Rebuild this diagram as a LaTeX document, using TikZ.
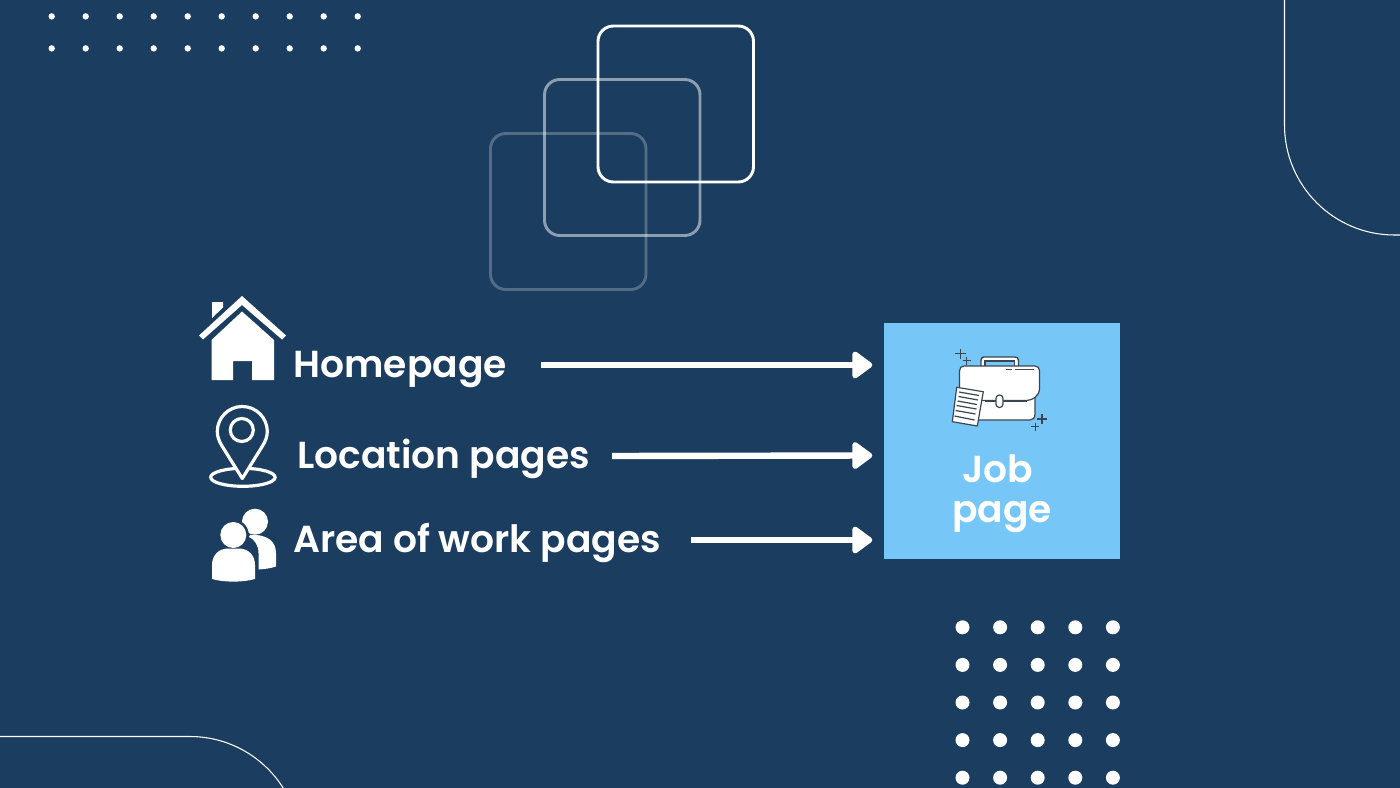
\documentclass[tikz,border=0pt]{standalone}
\usepackage{fontspec}
\setmainfont{Poppins SemiBold}
\usetikzlibrary{arrows.meta}
\definecolor{navy}{HTML}{1A3D60}
\definecolor{sky}{HTML}{76C6F8}
\definecolor{ink}{HTML}{3A4650}
\tikzset{
  lab/.style={text=white,inner sep=0pt,anchor=base west,font=\fontsize{28.2pt}{30pt}\selectfont},
  flow/.style={draw=white,line width=4.8pt,-{Triangle[length=16.5pt,width=23pt,round,line width=4pt]},shorten >=2pt},
  sq/.style={draw=white,rounded corners=11.5pt,line width=#1},
  thin arc/.style={draw=white,line width=0.8pt},
  brief/.style={fill=white,draw=ink,line width=0.9pt,line join=round},
  spark/.style={draw=ink,line width=1pt}
}
\begin{document}
\begin{tikzpicture}[x=0.75pt,y=-0.75pt]
\useasboundingbox (0,0) rectangle (1400,788);
\fill[navy] (0,0) rectangle (1400,788);
% dots top-left
\foreach \y in {16.4,48.4}\foreach \i in {0,...,9}
  \fill[white] ({51.7+34*\i},\y) circle (3.2);
% dots bottom-right
\foreach \r in {0,...,4}\foreach \c in {0,...,4}
  \fill[white] ({962.5+37.6*\c},{627.3+37.6*\r}) circle (7);
% corner arcs
\draw[thin arc] (1284.5,-2) -- (1284.5,125) arc[start angle=180,end angle=90,radius=110] -- (1402,235);
\draw[thin arc] (-2,736.5) -- (190,736.5) arc[start angle=270,end angle=335,radius=110];
% squares
\draw[sq=2.2pt,opacity=.25] (490.5,133.5) rectangle (646,289.5);
\draw[sq=2.2pt,opacity=.5] (544.5,79.5) rectangle (700,235.5);
\draw[sq=2.2pt] (598,26) rectangle (753.5,182);
% job box
\node[fill=sky,minimum width=177pt,minimum height=177pt,inner sep=0pt,anchor=north west] (job) at (884,323) {};
\node[text=white,align=center,inner sep=0pt,font=\fontsize{28.2pt}{30.3pt}\selectfont] (joblabel) at (1002,493.5) {Job\hspace*{6.5pt}\\[-0.5pt]page};
% labels
\node[lab] (home) at (293.3,377.3) {Homepage};
\node[lab] (loc) at (297.3,468.3) {Location pages};
\node[lab] (area) at (293,552.3) {Area of work pages};
% connectors
\coordinate (a1) at (541,365); \coordinate (b1) at (875,365);
\coordinate (a2) at (612,456); \coordinate (b2) at (875,455.5);
\coordinate (a3) at (691,540); \coordinate (b3) at (875,540);
\draw[flow] (a1) -- (b1);
\draw[flow] (a2) -- (b2);
\draw[flow] (a3) -- (b3);
% house icon
\fill[white] (212,302) -- (223,302) -- (223,307.5) -- (212,318) -- cycle;
\fill[white] (199,335.5) -- (242,296) -- (286,335.5) -- (282,339.5) -- (242,305) -- (203,339.5) -- cycle;
\fill[white] (242,311.5) -- (274,340) -- (274,380) -- (252,380) -- (252,361) -- (233,361) -- (233,380) -- (211.5,380) -- (211.5,340) -- cycle;
% pin icon
\draw[white,line width=2.4pt,fill=navy] (242.9,477.3) ellipse[x radius=32.2,y radius=9];
\draw[white,line width=2.4pt,fill=navy,line join=round] (242.3,478.5) -- (222,446) .. controls (219,441) and (217.3,436.5) .. (217.3,431.5) arc[start angle=180,end angle=360,radius=25] .. controls (267.3,436.5) and (265.5,441) .. (262.5,446) -- cycle;
\draw[white,line width=2.4pt] (241.8,430) circle (11.5);
% people icon
\fill[white] (255,521.7) circle (13);
\fill[white] (250,535) .. controls (268,534) and (276,542) .. (276,553) -- (276,566.5) .. controls (270,568.5) and (265,569) .. (258.5,569.5) -- (258.5,553) .. controls (258.5,545) and (254,539) .. (249,537) -- cycle;
\fill[navy] (233.3,535) circle (15.5);
\fill[white] (233.3,535) circle (13);
\fill[white] (212,565) .. controls (212,555) and (219,548.5) .. (228,548.5) -- (239,548.5) .. controls (248,548.5) and (255,555) .. (255,565) -- (255,579) .. controls (243,582.5) and (224,582.5) .. (212,579) -- cycle;
% briefcase
\draw[draw=ink,line width=1pt,fill=white] (981,367) -- (981,360.5) .. controls (981,358) and (982,357) .. (984,357) -- (1015,357) .. controls (1017,357) and (1018.5,358) .. (1018.5,360.5) -- (1018.5,367);
\draw[draw=ink,line width=.8pt,fill=sky] (985,367) -- (985,361) -- (1014.5,361) -- (1014.5,367);
\fill[white,draw=ink,line width=.9pt] (962,385) -- (962,414) .. controls (962,419) and (964,420) .. (968,420) -- (1030,420) .. controls (1033,420) and (1035,418) .. (1035,414) -- (1035,385) -- cycle;
\fill[white,draw=ink,line width=.9pt] (964,366) -- (1035,366) .. controls (1038,366) and (1039.5,368) .. (1039.5,371) -- (1039.5,388) .. controls (1039.5,396) and (1033,400.5) .. (1025,400.5) -- (968,400.5) .. controls (962,400.5) and (959.5,396) .. (959.5,390) -- (959.5,371) .. controls (959.5,368) and (961,366) .. (964,366) -- cycle;
\draw[ink,line width=.8pt] (1006,369.5) -- (1012,369.5) (1015,369.5) -- (1034,369.5);
\draw[ink,line width=1.2pt] (985,401) -- (1027,401);
\fill[white,draw=ink,line width=.9pt,rounded corners=2.5pt] (996,395) rectangle (1003,407.5);
\draw[brief] (956.7,387.3) -- (983.3,391.7) -- (977.3,426) -- (952.3,421.7) -- cycle;
\draw[ink,line width=.9pt] (959,392) -- (979,395.5) (958.5,396.5) -- (978,400) (957.5,401) -- (977,404.5) (956.5,405.5) -- (976.5,409) (955.5,410.5) -- (975.5,414) (954.5,416) -- (974.5,420);
\draw[spark] (955,353.5) -- (965.5,353.5) (960.3,348.5) -- (960.3,358.5);
\draw[spark] (962.7,360.7) -- (970.7,360.7) (966.7,356.7) -- (966.7,364.7);
\draw[spark] (1037,419) -- (1047,419) (1042,414) -- (1042,424);
\draw[spark] (1031.3,426.7) -- (1039.3,426.7) (1035.3,422.7) -- (1035.3,430.7);
\end{tikzpicture}
\end{document}
